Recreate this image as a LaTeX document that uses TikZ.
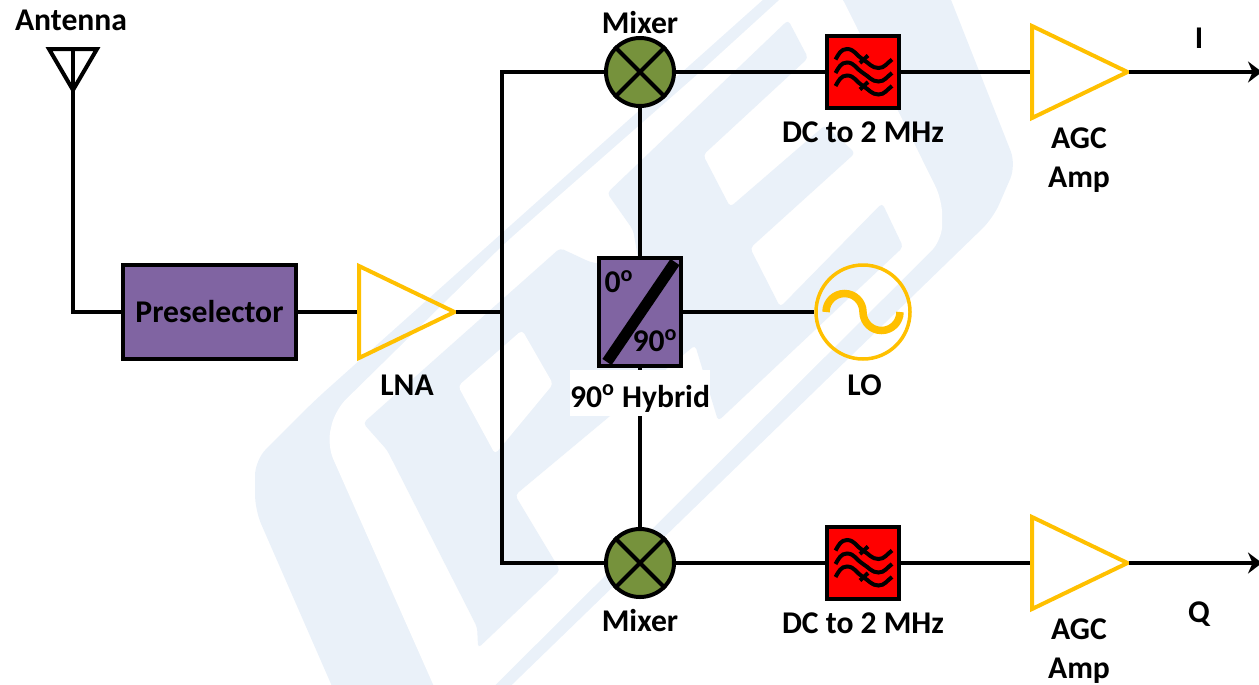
\documentclass[tikz,border=0pt]{standalone}
\usepackage{fontspec}
\setmainfont{Carlito}
\usetikzlibrary{shapes.geometric,arrows.meta}
\definecolor{markblue}{HTML}{EAF1F9}
\definecolor{hybridpurple}{HTML}{8064A2}
\definecolor{mixergreen}{HTML}{76923C}
\definecolor{ampyellow}{HTML}{FFC000}
\begin{document}
\begin{tikzpicture}[node distance=2.5cm, line width=.08cm, line join=miter,
    every node/.style={font=\fontsize{18}{22}\selectfont\bfseries, align=center},
    block/.style={rectangle, draw=black, fill=hybridpurple, inner sep=0pt},
    mixer/.style={circle, draw=black, fill=mixergreen, inner sep=0pt, minimum size=1.36cm},
    lowpass/.style={rectangle, draw=black, fill=red, inner sep=0pt, minimum size=1.44cm},
    amp/.style={isosceles triangle, isosceles triangle stretches, draw=ampyellow, inner sep=0pt,
        minimum width=1.84cm, minimum height=1.91cm, anchor=lower side},
    osc/.style={circle, draw=ampyellow, line width=.07cm, inner sep=0pt, minimum size=1.88cm},
    tag/.style={inner sep=0pt}]
    \useasboundingbox (0,0) rectangle (25.18,-13.68);

    % watermark
    \begin{scope}[x=.02cm, y=-.02cm]
        \fill[markblue, rounded corners=.3cm] (315,400) -- (255,460) -- (255,510) -- (338,700) -- (496,700) -- (993,218) -- (1016,165) -- (943,-20) -- (785,-20) -- cycle;
        \fill[white, rounded corners=.3cm] (440,700) -- (327,445) -- (335,410) -- (505,243) -- (700,72) -- (790,-10) -- (838,-10) -- (942,200) -- (942,240) -- (480,700) -- cycle;
        \fill[markblue, rounded corners=.08cm] (363,423) -- (560,248) -- (590,262) -- (640,270) -- (633,230) -- (607,193) -- (788,20) -- (808,58) -- (703,155) -- (730,207) -- (825,125) -- (855,153) -- (750,248) -- (780,307) -- (882,203) -- (903,247) -- (718,421) -- (695,345) -- (515,495) -- (560,570) -- (478,648) -- (477,627) -- (387,450) -- cycle;
        \fill[white, rounded corners=.08cm] (458,386) -- (522,330) -- (553,384) -- (495,454) -- cycle;
    \end{scope}

    \node(preselector)[block, minimum width=3.46cm, minimum height=1.88cm] at (4.19,-6.24) {Preselector};
    \node(lna)[right of=preselector, xshift=.45cm, amp]{};
    \coordinate[right of=preselector, xshift=3.35cm] (split);
    \node(hybrid)[block, right of=preselector, xshift=6.11cm, minimum width=1.64cm, minimum height=2.16cm]{};
    \node(lo)[osc, right of=hybrid, xshift=1.96cm]{};
    \node(mixerI)[mixer, above of=hybrid, yshift=2.3cm]{};
    \node(mixerQ)[mixer, below of=hybrid, yshift=-2.52cm]{};
    \node(filterI)[lowpass, right of=mixerI, xshift=1.96cm]{};
    \node(filterQ)[lowpass, right of=mixerQ, xshift=1.96cm]{};
    \node(ampI)[right of=filterI, xshift=.84cm, amp]{};
    \node(ampQ)[right of=filterQ, xshift=.84cm, amp]{};
    \coordinate[right of=filterI, xshift=5.48cm] (outI);
    \coordinate[right of=filterQ, xshift=5.48cm] (outQ);
    \coordinate (antenna) at (1.46,-1.8);
    \coordinate (antennaTop) at (1.46,-.98);

    \draw (antennaTop) -- (antenna);
    \draw ([xshift=-.48cm]antennaTop) -- ([xshift=.48cm]antennaTop) -- (antenna) -- cycle;
    \draw (antenna) |- (preselector);
    \draw (preselector) -- (lna.lower side);
    \draw[shorten <=-.08cm] (lna.apex) -- (split);
    \draw (split) |- (mixerI);
    \draw (split) |- (mixerQ);
    \draw (hybrid) -- (mixerI);
    \draw (hybrid) -- (mixerQ);
    \draw (hybrid) -- (lo);
    \draw (mixerI) -- (filterI);
    \draw (mixerQ) -- (filterQ);
    \draw (filterI) -- (ampI.lower side);
    \draw (filterQ) -- (ampQ.lower side);
    \draw[shorten <=-.08cm, -{Stealth[length=.28cm, width=.42cm]}] (ampI.apex) -- (outI);
    \draw[shorten <=-.08cm, -{Stealth[length=.28cm, width=.42cm]}] (ampQ.apex) -- (outQ);

    \foreach \m in {mixerI, mixerQ} {
        \draw (\m.north west) -- (\m.south east);
        \draw (\m.north east) -- (\m.south west);
    }
    \foreach \f in {filterI, filterQ} {
        \begin{scope}[shift={(\f.center)}]
            \foreach \y in {0, -.27, -.53} {
                \draw[yshift=\y cm] (-.55,.25) to[out=60, in=180] (-.32,.46) to[out=0, in=150] (0,.25) to[out=-30, in=180] (.31,.08) to[out=0, in=215] (.58,.25);
            }
            \draw (-.06,.18) -- (.1,.33);
            \draw (-.06,-.35) -- (.1,-.2);
        \end{scope}
    }
    \draw[line width=.22cm] ([shift={(-.66,-1)}]hybrid.center) -- ([shift={(.7,1)}]hybrid.center);
    \draw[ampyellow, line width=.15cm] ([xshift=-.74cm]lo.center) arc[start angle=180, end angle=0, radius=.37cm] arc[start angle=180, end angle=360, radius=.37cm];

    \node(antennaLabel)[tag] at (1.42,-.4) {Antenna};
    \node(lnaLabel)[tag] at ([shift={(1,-1.46)}]lna.lower side) {LNA};
    \node(zeroLabel)[tag] at ([shift={(-.42,.6)}]hybrid.center) {0\textsuperscript{o}};
    \node(ninetyLabel)[tag] at ([shift={(.3,-.57)}]hybrid.center) {90\textsuperscript{o}};
    \node(hybridLabel)[tag, below of=hybrid, yshift=.88cm, fill=white, minimum width=2.76cm, text height=.74cm, text depth=.18cm]{90\textsuperscript{o} Hybrid};
    \node(loLabel)[tag, below of=lo, xshift=.03cm, yshift=1.04cm]{LO};
    \node(mixerILabel)[tag, above of=mixerI, yshift=-1.52cm]{Mixer};
    \node(mixerQLabel)[tag, below of=mixerQ, yshift=1.34cm]{Mixer};
    \node(filterILabel)[tag, below of=filterI, yshift=1.3cm]{DC to 2 MHz};
    \node(filterQLabel)[tag, below of=filterQ, yshift=1.3cm]{DC to 2 MHz};
    \node(ampILabel)[tag] at ([shift={(.98,-1.76)}]ampI.lower side) {AGC\\Amp};
    \node(ampQLabel)[tag] at ([shift={(.98,-1.76)}]ampQ.lower side) {AGC\\Amp};
    \node(iLabel)[tag] at ([shift={(3.38,.68)}]ampI.lower side) {I};
    \node(qLabel)[tag] at ([shift={(3.38,-1.02)}]ampQ.lower side) {Q};
\end{tikzpicture}
\end{document}
